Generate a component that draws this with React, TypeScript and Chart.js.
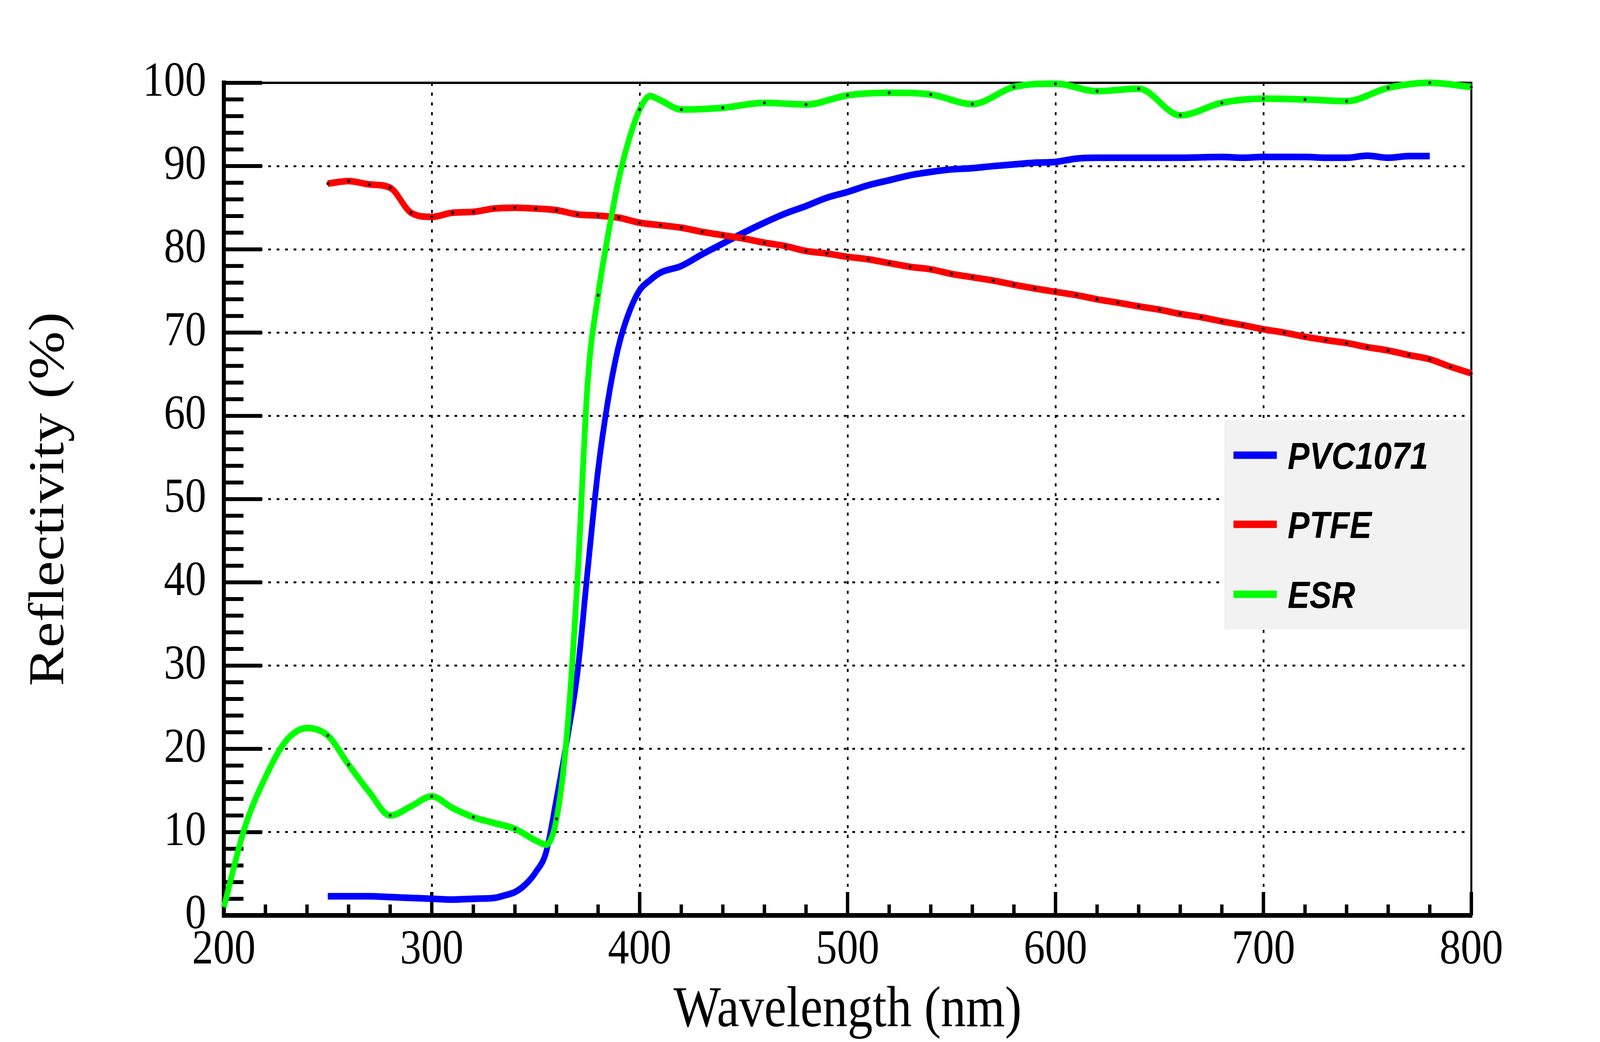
import { useEffect, useRef } from 'react';
import { Chart, registerables } from 'chart.js';

Chart.register(...registerables);

// axis ticks
const xTicks = [200, 300, 400, 500, 600, 700, 800];
const yTicks = [0, 10, 20, 30, 40, 50, 60, 70, 80, 90, 100];

// PVC1071 (blue)
const pvcNm = [
  250, 260, 270, 280, 290, 300, 310, 320, 330, 335, 340, 345, 350, 355, 360, 365, 370, 375, 380, 385,
  390, 395, 400, 405, 410, 420, 430, 440, 450, 460, 470, 480, 490, 500, 510, 520, 530, 540, 550, 560,
  570, 580, 590, 600, 610, 620, 630, 640, 650, 660, 670, 680, 690, 700, 710, 720, 730, 740, 750, 760,
  770, 780,
];
const pvcR = [
  2.3, 2.3, 2.3, 2.2, 2.1, 2.0, 1.9, 2.0, 2.1, 2.4, 2.8, 3.7, 5.2, 7.6, 14, 21, 29, 41.5, 53.5, 62.2,
  68.5, 72.5, 75.1, 76.3, 77.2, 78, 79.4, 80.7, 82, 83.2, 84.3, 85.2, 86.2, 86.9, 87.7, 88.3, 88.9, 89.3, 89.6, 89.75,
  90.0, 90.2, 90.4, 90.5, 90.9, 91.0, 91.0, 91.0, 91.0, 91.0, 91.05, 91.1, 91.0, 91.1, 91.1, 91.1, 91.0, 91.0, 91.25, 91.0,
  91.2, 91.2,
];

// PTFE (red)
const ptfeNm = [
  250, 260, 270, 280, 290, 300, 310, 320, 330, 340, 350, 360, 370, 380, 390, 400, 410, 420, 430, 440,
  450, 460, 470, 480, 490, 500, 510, 520, 530, 540, 550, 560, 570, 580, 590, 600, 610, 620, 630, 640,
  650, 660, 670, 680, 690, 700, 710, 720, 730, 740, 750, 760, 770, 780, 790, 800,
];
const ptfeR = [
  87.9, 88.2, 87.8, 87.4, 84.4, 83.9, 84.4, 84.5, 84.9, 85.0, 84.9, 84.7, 84.2, 84.05, 83.8, 83.2, 82.9, 82.6, 82.1, 81.7,
  81.3, 80.8, 80.4, 79.8, 79.5, 79.1, 78.8, 78.35, 77.9, 77.6, 77.05, 76.65, 76.25, 75.75, 75.3, 74.9, 74.5, 74.0, 73.6, 73.15,
  72.75, 72.25, 71.85, 71.35, 70.9, 70.4, 70.0, 69.5, 69.1, 68.75, 68.25, 67.85, 67.3, 66.8, 65.9, 65.1,
];

// ESR (green)
const esrNm = [
  200, 210, 220, 230, 240, 250, 260, 270, 280, 290, 300, 310, 320, 330, 340, 350, 355, 360, 365, 370,
  375, 380, 385, 390, 395, 400, 405, 410, 420, 440, 460, 480, 500, 520, 540, 560, 580, 600, 620, 640,
  660, 680, 700, 720, 740, 760, 780, 800,
];
const esrR = [
  1.0, 10.5, 16.6, 21.0, 22.5, 21.6, 18.1, 14.8, 12.0, 13.1, 14.3, 12.9, 11.8, 11.1, 10.4, 9.0, 8.5, 11.6, 21.7, 40,
  64, 74.5, 82, 88.5, 93.3, 96.8, 98.4, 97.9, 96.8, 97.0, 97.6, 97.4, 98.5, 98.8, 98.6, 97.45, 99.5, 99.9, 99.0, 99.3,
  96.1, 97.6, 98.1, 98.0, 97.8, 99.4, 100.0, 99.5,
];

const toPoints = (xs: number[], ys: number[]) => xs.map((x, i) => ({ x, y: ys[i] }));

// ROOT-like frame: ticks pointing into the plot, plus top/right lines
const frameTicks = {
  id: 'frameTicks',
  beforeDatasetsDraw(chart: any) {
    const { ctx, chartArea: a, scales } = chart;
    const x = scales.x;
    const y = scales.y;
    ctx.save();
    ctx.strokeStyle = '#000';
    ctx.lineCap = 'butt';
    ctx.lineWidth = 10;
    ctx.beginPath();
    for (let v = 0; v <= 100; v += 2) {
      const py = y.getPixelForValue(v);
      const len = v % 10 === 0 ? 113 : 58;
      ctx.moveTo(a.left, py);
      ctx.lineTo(a.left + len, py);
    }
    for (let v = 200; v <= 800; v += 20) {
      const px = x.getPixelForValue(v);
      const len = v % 100 === 0 ? 60 : 28;
      ctx.moveTo(px, a.bottom);
      ctx.lineTo(px, a.bottom - len);
    }
    ctx.stroke();
    ctx.lineWidth = 6;
    ctx.beginPath();
    ctx.moveTo(a.left, a.top);
    ctx.lineTo(a.right, a.top);
    ctx.lineTo(a.right, a.bottom);
    ctx.stroke();
    ctx.restore();
  },
};

// legend box inside the plot, right side
const legendBox = {
  id: 'legendBox',
  afterDraw(chart: any) {
    const { ctx, chartArea: a } = chart;
    const w = a.right - a.left;
    const h = a.bottom - a.top;
    const left = a.left + 0.802 * w;
    const top = a.top + 0.405 * h;
    const bottom = a.top + 0.6565 * h;
    const bh = bottom - top;
    ctx.save();
    ctx.fillStyle = '#f2f2f2';
    ctx.fillRect(left, top, a.right - 3 - left, bh);
    const rows = [0.168, 0.498, 0.832];
    chart.data.datasets.forEach((ds: any, i: number) => {
      const ry = top + rows[i] * bh;
      ctx.strokeStyle = ds.borderColor;
      ctx.lineWidth = 19;
      ctx.beginPath();
      ctx.moveTo(left + 27, ry);
      ctx.lineTo(left + 155, ry);
      ctx.stroke();
      ctx.fillStyle = '#000';
      ctx.font = 'italic bold 97px "Liberation Sans"';
      ctx.textAlign = 'left';
      ctx.textBaseline = 'alphabetic';
      ctx.fillText(ds.label, left + 187, ry + 35);
    });
    ctx.restore();
  },
};

const serif = '"Liberation Serif", "Times New Roman", serif';

export default function App() {
  const canvasRef = useRef<HTMLCanvasElement | null>(null);

  useEffect(() => {
    document.documentElement.style.overflow = 'hidden';
    document.body.style.margin = '0';
    document.body.style.overflow = 'hidden';
    if (!canvasRef.current) return;

    const esrDot = (ctx: any) => {
      const nm = esrNm[ctx.dataIndex];
      return nm === 250 || (nm >= 260 && nm % 20 === 0) ? 4 : 0;
    };

    const chart = new Chart(canvasRef.current, {
      type: 'line',
      data: {
        datasets: [
          {
            label: 'PVC1071',
            data: toPoints(pvcNm, pvcR),
            borderColor: '#0000ff',
            borderWidth: 17,
            pointRadius: 0,
            cubicInterpolationMode: 'monotone',
            order: 3,
            clip: false,
          },
          {
            label: 'PTFE',
            data: toPoints(ptfeNm, ptfeR),
            borderColor: '#ff0000',
            borderWidth: 17,
            pointRadius: 4,
            pointBackgroundColor: '#000',
            pointBorderWidth: 0,
            cubicInterpolationMode: 'monotone',
            order: 2,
            clip: false,
          },
          {
            label: 'ESR',
            data: toPoints(esrNm, esrR),
            borderColor: '#00ff00',
            borderWidth: 17,
            pointRadius: esrDot,
            pointBackgroundColor: '#000',
            pointBorderWidth: 0,
            cubicInterpolationMode: 'monotone',
            order: 1,
            clip: false,
          },
        ],
      } as any,
      options: {
        responsive: false,
        animation: false,
        devicePixelRatio: 1,
        layout: { padding: { left: 0, right: 380, top: 212, bottom: 0 } },
        plugins: {
          legend: { display: false },
          tooltip: { enabled: false },
        },
        scales: {
          x: {
            type: 'linear',
            min: 200,
            max: 800,
            afterBuildTicks: (s: any) => {
              s.ticks = xTicks.map((v) => ({ value: v }));
            },
            afterFit: (s: any) => {
              s.height = 324;
            },
            grid: { color: '#000', lineWidth: 5, drawTicks: false },
            border: { color: '#000', width: 12, dash: [8, 17] },
            ticks: {
              color: '#000',
              padding: 15,
              maxRotation: 0,
              font: { family: serif, size: 125 },
            },
            title: {
              display: true,
              text: 'Wavelength (nm)',
              color: '#000',
              font: { family: serif, size: 148, lineHeight: 1 },
              padding: { top: 0, bottom: 5 },
            },
          },
          y: {
            type: 'linear',
            min: 0,
            max: 100,
            afterBuildTicks: (s: any) => {
              s.ticks = yTicks.map((v) => ({ value: v }));
            },
            afterFit: (s: any) => {
              s.width = 661;
            },
            grid: { color: '#000', lineWidth: 5, drawTicks: false },
            border: { color: '#000', width: 12, dash: [8, 17] },
            ticks: {
              color: '#000',
              padding: 52,
              font: { family: serif, size: 125 },
            },
            title: {
              display: true,
              text: 'Reflectivity (%)',
              color: '#000',
              font: { family: serif, size: 148, lineHeight: 1 },
              padding: { top: 74, bottom: 0 },
            },
          },
        },
      } as any,
      plugins: [frameTicks, legendBox],
    });

    return () => {
      chart.destroy();
    };
  }, []);

  // drawing surface is 4725x2667; the browser viewport is narrower, so it is stretched to fill it
  return (
    <div style={{ width: '100vw', height: '100vh', overflow: 'hidden', background: '#fff' }}>
      <canvas
        ref={canvasRef}
        width={4725}
        height={2667}
        style={{ display: 'block', width: '100vw', height: '100vh' }}
      />
    </div>
  );
}
